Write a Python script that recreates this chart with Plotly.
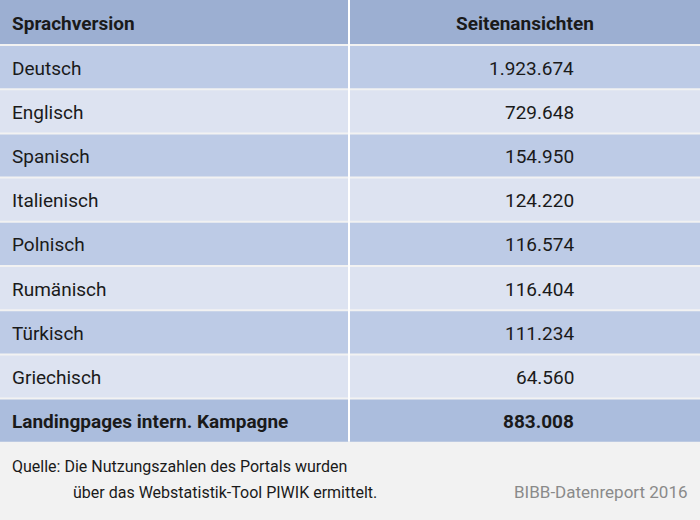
import plotly.graph_objects as go

headers = ["Sprachversion", "Seitenansichten"]
languages = ["Deutsch", "Englisch", "Spanisch", "Italienisch", "Polnisch",
             "Rumänisch", "Türkisch", "Griechisch", "Landingpages intern. Kampagne"]
views = [1923674, 729648, 154950, 124220, 116574, 116404, 111234, 64560, 883008]
source_lines = ["Quelle: Die Nutzungszahlen des Portals wurden",
                "über das Webstatistik-Tool PIWIK ermittelt."]
credit = "BIBB-Datenreport 2016"

FONT = "Liberation Sans Narrow, Roboto, sans-serif"
W, H = 700, 520
HDR_H = 44
ROW_H = 44.2
DIV_X = 349

fig = go.Figure()
shapes = []
ann = []

shapes.append(dict(type="rect", x0=0, x1=W, y0=0, y1=HDR_H, fillcolor="#9cafd2", line_width=0, layer="below"))
ann.append(dict(x=10, y=HDR_H/2 + 1, text="<b>%s</b>" % headers[0], xanchor="left"))
ann.append(dict(x=525, y=HDR_H/2 + 1, text="<b>%s</b>" % headers[1], xanchor="center"))

for i, (lang, v) in enumerate(zip(languages, views)):
    y0 = HDR_H + 2 + i * ROW_H
    y1 = y0 + ROW_H - 2
    last = i == len(languages) - 1
    col = "#abbddd" if last else ("#bdcbe6" if i % 2 == 0 else "#dde3f1")
    shapes.append(dict(type="rect", x0=0, x1=W, y0=y0, y1=y1, fillcolor=col, line_width=0, layer="below"))
    num = f"{v:,}".replace(",", ".")
    if last:
        lang, num = "<b>%s</b>" % lang, "<b>%s</b>" % num
    ann.append(dict(x=10, y=(y0 + y1) / 2 + 1, text=lang, xanchor="left"))
    ann.append(dict(x=576, y=(y0 + y1) / 2 + 1, text=num, xanchor="right"))

table_bottom = HDR_H + 2 + len(languages) * ROW_H - 2
shapes.append(dict(type="line", x0=DIV_X, x1=DIV_X, y0=0, y1=table_bottom, line=dict(color="white", width=2)))

for a in ann:
    a.update(xref="x", yref="y", yanchor="middle", showarrow=False,
             font=dict(family=FONT, size=19, color="#1a1a1a"))

ann.append(dict(x=10, y=466, text=source_lines[0], xanchor="left", yanchor="middle", showarrow=False,
                xref="x", yref="y", font=dict(family=FONT, size=16, color="#1a1a1a")))
ann.append(dict(x=71, y=492, text=source_lines[1], xanchor="left", yanchor="middle", showarrow=False,
                xref="x", yref="y", font=dict(family=FONT, size=16, color="#1a1a1a")))
ann.append(dict(x=690, y=492, text=credit, xanchor="right", yanchor="middle", showarrow=False,
                xref="x", yref="y", font=dict(family=FONT, size=17, color="#8a8a8a")))

fig.update_layout(
    width=W, height=H, margin=dict(l=0, r=0, t=0, b=0),
    paper_bgcolor="#f2f2f2", plot_bgcolor="#f2f2f2",
    xaxis=dict(range=[0, W], visible=False, fixedrange=True),
    yaxis=dict(range=[H, 0], visible=False, fixedrange=True),
    shapes=shapes, annotations=ann, showlegend=False,
)
fig.write_html("out.html", config={"displayModeBar": False},
               post_script="document.body.style.margin='0';document.body.style.padding='0';document.body.style.background='#f2f2f2';")
